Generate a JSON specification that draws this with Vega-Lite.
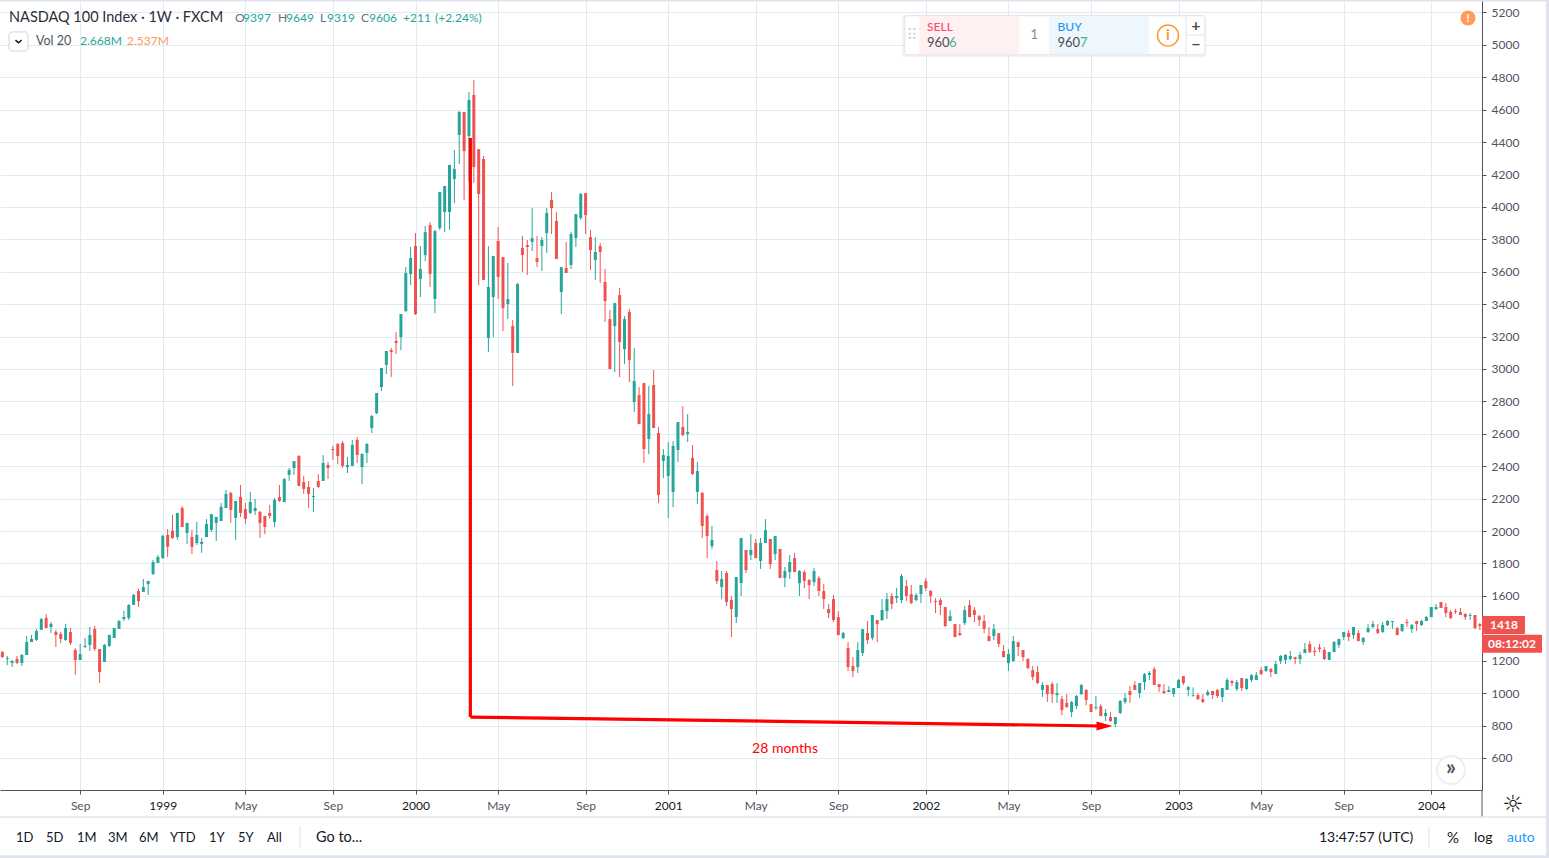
{"$schema":"https://vega.github.io/schema/vega-lite/v6.json","width":1482,"height":790,"padding":{"left":0,"top":0,"right":67,"bottom":68},"autosize":{"type":"none","contains":"content"},"background":"#ffffff","config":{"font":"Lato","view":{"stroke":null},"text":{"baseline":"middle","align":"left","fontSize":13,"color":"#131722"}},"data":{"values":[{"k":1}]},"datasets":{"candles":[
{"d":"1998-05-18","o":1254,"h":1260,"l":1217,"c":1223},{"d":"1998-05-25","o":1211,"h":1229,"l":1173,"c":1217},{"d":"1998-06-01","o":1186,"h":1204,"l":1161,"c":1198},{"d":"1998-06-08","o":1211,"h":1229,"l":1180,"c":1186},{"d":"1998-06-15","o":1186,"h":1241,"l":1167,"c":1235},{"d":"1998-06-22","o":1235,"h":1352,"l":1235,"c":1315},{"d":"1998-06-29","o":1315,"h":1359,"l":1315,"c":1334},{"d":"1998-07-06","o":1328,"h":1396,"l":1322,"c":1383},{"d":"1998-07-13","o":1390,"h":1464,"l":1390,"c":1457},{"d":"1998-07-20","o":1464,"h":1488,"l":1402,"c":1402},{"d":"1998-07-27","o":1408,"h":1439,"l":1371,"c":1427},{"d":"1998-08-03","o":1377,"h":1390,"l":1285,"c":1359},{"d":"1998-08-10","o":1365,"h":1377,"l":1309,"c":1334},{"d":"1998-08-17","o":1328,"h":1427,"l":1322,"c":1402},{"d":"1998-08-24","o":1377,"h":1402,"l":1297,"c":1309},{"d":"1998-08-31","o":1266,"h":1278,"l":1112,"c":1204},{"d":"1998-09-07","o":1204,"h":1303,"l":1204,"c":1241},{"d":"1998-09-14","o":1285,"h":1340,"l":1278,"c":1291},{"d":"1998-09-21","o":1297,"h":1408,"l":1260,"c":1359},{"d":"1998-09-28","o":1396,"h":1414,"l":1260,"c":1272},{"d":"1998-10-05","o":1272,"h":1272,"l":1062,"c":1130},{"d":"1998-10-12","o":1192,"h":1303,"l":1192,"c":1297},{"d":"1998-10-19","o":1291,"h":1359,"l":1285,"c":1359},{"d":"1998-10-26","o":1340,"h":1402,"l":1340,"c":1402},{"d":"1998-11-02","o":1396,"h":1451,"l":1396,"c":1445},{"d":"1998-11-09","o":1457,"h":1507,"l":1445,"c":1470},{"d":"1998-11-16","o":1464,"h":1550,"l":1451,"c":1544},{"d":"1998-11-23","o":1544,"h":1612,"l":1544,"c":1606},{"d":"1998-11-30","o":1630,"h":1643,"l":1531,"c":1568},{"d":"1998-12-07","o":1624,"h":1704,"l":1624,"c":1655},{"d":"1998-12-14","o":1673,"h":1692,"l":1606,"c":1692},{"d":"1998-12-21","o":1735,"h":1821,"l":1729,"c":1809},{"d":"1998-12-28","o":1803,"h":1852,"l":1803,"c":1840},
{"d":"1999-01-04","o":1834,"h":1976,"l":1828,"c":1970},{"d":"1999-01-11","o":1976,"h":2013,"l":1840,"c":1902},{"d":"1999-01-18","o":2002,"h":2099,"l":1951,"c":1957},{"d":"1999-01-25","o":1963,"h":2112,"l":1945,"c":2112},{"d":"1999-02-01","o":2142,"h":2155,"l":2025,"c":2025},{"d":"1999-02-08","o":1988,"h":2050,"l":1920,"c":2050},{"d":"1999-02-15","o":1963,"h":2007,"l":1859,"c":1902},{"d":"1999-02-22","o":1926,"h":2056,"l":1914,"c":1976},{"d":"1999-03-01","o":1920,"h":1957,"l":1865,"c":1933},{"d":"1999-03-08","o":1963,"h":2074,"l":1963,"c":2044},{"d":"1999-03-15","o":2007,"h":2105,"l":1994,"c":2105},{"d":"1999-03-22","o":2050,"h":2087,"l":1939,"c":2087},{"d":"1999-03-29","o":2062,"h":2173,"l":2062,"c":2149},{"d":"1999-04-05","o":2142,"h":2253,"l":2142,"c":2229},{"d":"1999-04-12","o":2235,"h":2241,"l":2050,"c":2130},{"d":"1999-04-19","o":2081,"h":2186,"l":1945,"c":2186},{"d":"1999-04-26","o":2210,"h":2284,"l":2087,"c":2112},{"d":"1999-05-03","o":2136,"h":2173,"l":2044,"c":2075},{"d":"1999-05-10","o":2112,"h":2241,"l":2105,"c":2179},{"d":"1999-05-17","o":2124,"h":2198,"l":2099,"c":2142},{"d":"1999-05-24","o":2118,"h":2124,"l":1957,"c":2050},{"d":"1999-05-31","o":2093,"h":2093,"l":1982,"c":2025},{"d":"1999-06-07","o":2112,"h":2161,"l":2075,"c":2093},{"d":"1999-06-14","o":2056,"h":2204,"l":2025,"c":2192},{"d":"1999-06-21","o":2210,"h":2284,"l":2179,"c":2186},{"d":"1999-06-28","o":2179,"h":2327,"l":2179,"c":2321},{"d":"1999-07-05","o":2346,"h":2389,"l":2309,"c":2377},{"d":"1999-07-12","o":2389,"h":2432,"l":2346,"c":2432},{"d":"1999-07-19","o":2463,"h":2469,"l":2278,"c":2278},{"d":"1999-07-26","o":2303,"h":2340,"l":2229,"c":2260},{"d":"1999-08-02","o":2272,"h":2309,"l":2142,"c":2229},{"d":"1999-08-09","o":2210,"h":2266,"l":2118,"c":2216},{"d":"1999-08-16","o":2309,"h":2352,"l":2266,"c":2272},{"d":"1999-08-23","o":2309,"h":2469,"l":2309,"c":2420},{"d":"1999-08-30","o":2408,"h":2426,"l":2321,"c":2389},{"d":"1999-09-06","o":2506,"h":2525,"l":2439,"c":2500},{"d":"1999-09-13","o":2537,"h":2543,"l":2414,"c":2463},{"d":"1999-09-20","o":2543,"h":2556,"l":2389,"c":2402},{"d":"1999-09-27","o":2395,"h":2457,"l":2358,"c":2408},{"d":"1999-10-04","o":2402,"h":2562,"l":2402,"c":2531},{"d":"1999-10-11","o":2562,"h":2580,"l":2420,"c":2469},{"d":"1999-10-18","o":2395,"h":2480,"l":2290,"c":2476},{"d":"1999-10-25","o":2482,"h":2543,"l":2420,"c":2537},{"d":"1999-11-01","o":2636,"h":2716,"l":2605,"c":2710},{"d":"1999-11-08","o":2728,"h":2852,"l":2722,"c":2852},{"d":"1999-11-15","o":2889,"h":3006,"l":2864,"c":3006},{"d":"1999-11-22","o":3025,"h":3111,"l":2969,"c":3111},{"d":"1999-11-29","o":3117,"h":3130,"l":2951,"c":3105},{"d":"1999-12-06","o":3173,"h":3228,"l":3092,"c":3160},{"d":"1999-12-13","o":3197,"h":3339,"l":3117,"c":3339},{"d":"1999-12-20","o":3358,"h":3629,"l":3352,"c":3592},{"d":"1999-12-27","o":3586,"h":3753,"l":3518,"c":3685},
{"d":"2000-01-03","o":3759,"h":3839,"l":3333,"c":3339},{"d":"2000-01-10","o":3555,"h":3759,"l":3444,"c":3617},{"d":"2000-01-17","o":3703,"h":3882,"l":3666,"c":3845},{"d":"2000-01-24","o":3888,"h":3907,"l":3506,"c":3586},{"d":"2000-01-31","o":3432,"h":3858,"l":3345,"c":3851},{"d":"2000-02-07","o":3870,"h":4092,"l":3858,"c":4092},{"d":"2000-02-14","o":3969,"h":4129,"l":3845,"c":4129},{"d":"2000-02-21","o":3969,"h":4259,"l":3858,"c":4259},{"d":"2000-02-28","o":4172,"h":4351,"l":4024,"c":4234},{"d":"2000-03-06","o":4444,"h":4592,"l":4265,"c":4586},{"d":"2000-03-13","o":4586,"h":4586,"l":4043,"c":4345},{"d":"2000-03-20","o":4438,"h":4709,"l":4154,"c":4660},{"d":"2000-03-27","o":4691,"h":4783,"l":4148,"c":4246},{"d":"2000-04-03","o":4357,"h":4357,"l":3518,"c":4080},{"d":"2000-04-10","o":4296,"h":4314,"l":3549,"c":3549},{"d":"2000-04-17","o":3191,"h":3759,"l":3105,"c":3506},{"d":"2000-04-24","o":3444,"h":3697,"l":3197,"c":3697},{"d":"2000-05-01","o":3790,"h":3876,"l":3432,"c":3568},{"d":"2000-05-08","o":3691,"h":3691,"l":3234,"c":3376},{"d":"2000-05-15","o":3401,"h":3654,"l":3308,"c":3432},{"d":"2000-05-22","o":3265,"h":3302,"l":2895,"c":3099},{"d":"2000-05-29","o":3099,"h":3531,"l":3099,"c":3524},{"d":"2000-06-05","o":3747,"h":3821,"l":3598,"c":3703},{"d":"2000-06-12","o":3765,"h":3796,"l":3580,"c":3753},{"d":"2000-06-19","o":3784,"h":3993,"l":3728,"c":3808},{"d":"2000-06-26","o":3685,"h":3821,"l":3629,"c":3660},{"d":"2000-07-03","o":3759,"h":3814,"l":3605,"c":3796},{"d":"2000-07-10","o":3839,"h":3993,"l":3716,"c":3963},{"d":"2000-07-17","o":4043,"h":4092,"l":3833,"c":3993},{"d":"2000-07-24","o":3913,"h":3969,"l":3679,"c":3679},{"d":"2000-07-31","o":3475,"h":3629,"l":3339,"c":3629},{"d":"2000-08-07","o":3623,"h":3784,"l":3592,"c":3592},{"d":"2000-08-14","o":3642,"h":3845,"l":3617,"c":3833},{"d":"2000-08-21","o":3808,"h":3956,"l":3753,"c":3956},{"d":"2000-08-28","o":3932,"h":4086,"l":3919,"c":4080},{"d":"2000-09-04","o":4086,"h":4086,"l":3833,"c":3950},{"d":"2000-09-11","o":3814,"h":3858,"l":3611,"c":3734},{"d":"2000-09-18","o":3672,"h":3814,"l":3549,"c":3722},{"d":"2000-09-25","o":3759,"h":3777,"l":3531,"c":3722},{"d":"2000-10-02","o":3537,"h":3617,"l":3290,"c":3419},{"d":"2000-10-09","o":3308,"h":3364,"l":3000,"c":3000},{"d":"2000-10-16","o":3265,"h":3407,"l":2981,"c":3407},{"d":"2000-10-23","o":3456,"h":3500,"l":2950,"c":3166},{"d":"2000-10-30","o":3123,"h":3327,"l":3031,"c":3308},{"d":"2000-11-06","o":3352,"h":3370,"l":2920,"c":3055},{"d":"2000-11-13","o":2796,"h":3129,"l":2734,"c":2926},{"d":"2000-11-20","o":2839,"h":2889,"l":2660,"c":2660},{"d":"2000-11-27","o":2913,"h":2913,"l":2420,"c":2506},{"d":"2000-12-04","o":2568,"h":2895,"l":2475,"c":2722},{"d":"2000-12-11","o":2901,"h":2994,"l":2636,"c":2636},{"d":"2000-12-18","o":2605,"h":2642,"l":2173,"c":2222},{"d":"2000-12-25","o":2432,"h":2506,"l":2327,"c":2469},
{"d":"2001-01-01","o":2339,"h":2549,"l":2080,"c":2463},{"d":"2001-01-08","o":2241,"h":2555,"l":2148,"c":2525},{"d":"2001-01-15","o":2500,"h":2673,"l":2426,"c":2673},{"d":"2001-01-22","o":2642,"h":2771,"l":2586,"c":2592},{"d":"2001-01-29","o":2599,"h":2722,"l":2549,"c":2611},{"d":"2001-02-05","o":2451,"h":2531,"l":2346,"c":2352},{"d":"2001-02-12","o":2241,"h":2426,"l":2167,"c":2370},{"d":"2001-02-19","o":2235,"h":2241,"l":1957,"c":2031},{"d":"2001-02-26","o":2093,"h":2105,"l":1833,"c":1969},{"d":"2001-03-05","o":1907,"h":2031,"l":1889,"c":1945},{"d":"2001-03-12","o":1759,"h":1815,"l":1673,"c":1691},{"d":"2001-03-19","o":1654,"h":1753,"l":1580,"c":1704},{"d":"2001-03-26","o":1741,"h":1753,"l":1537,"c":1562},{"d":"2001-04-02","o":1574,"h":1599,"l":1346,"c":1519},{"d":"2001-04-09","o":1469,"h":1716,"l":1432,"c":1716},{"d":"2001-04-16","o":1679,"h":1957,"l":1599,"c":1957},{"d":"2001-04-23","o":1883,"h":1883,"l":1741,"c":1759},{"d":"2001-04-30","o":1852,"h":1982,"l":1821,"c":1883},{"d":"2001-05-07","o":1926,"h":1951,"l":1833,"c":1833},{"d":"2001-05-14","o":1815,"h":1957,"l":1766,"c":1926},{"d":"2001-05-21","o":1926,"h":2074,"l":1926,"c":2006},{"d":"2001-05-28","o":1951,"h":1951,"l":1766,"c":1796},{"d":"2001-06-04","o":1858,"h":1969,"l":1821,"c":1969},{"d":"2001-06-11","o":1889,"h":1889,"l":1710,"c":1710},{"d":"2001-06-18","o":1710,"h":1778,"l":1654,"c":1753},{"d":"2001-06-25","o":1747,"h":1852,"l":1704,"c":1809},{"d":"2001-07-02","o":1833,"h":1864,"l":1747,"c":1747},{"d":"2001-07-09","o":1679,"h":1759,"l":1599,"c":1753},{"d":"2001-07-16","o":1747,"h":1759,"l":1648,"c":1692},{"d":"2001-07-23","o":1698,"h":1704,"l":1580,"c":1667},{"d":"2001-07-30","o":1685,"h":1772,"l":1661,"c":1753},{"d":"2001-08-06","o":1710,"h":1722,"l":1599,"c":1630},{"d":"2001-08-13","o":1630,"h":1673,"l":1519,"c":1580},{"d":"2001-08-20","o":1519,"h":1550,"l":1463,"c":1494},{"d":"2001-08-27","o":1580,"h":1605,"l":1438,"c":1451},{"d":"2001-09-03","o":1469,"h":1506,"l":1358,"c":1358},{"d":"2001-09-10","o":1340,"h":1377,"l":1334,"c":1371},{"d":"2001-09-17","o":1278,"h":1315,"l":1136,"c":1161},{"d":"2001-09-24","o":1167,"h":1222,"l":1099,"c":1136},{"d":"2001-10-01","o":1161,"h":1315,"l":1124,"c":1266},{"d":"2001-10-08","o":1247,"h":1395,"l":1229,"c":1395},{"d":"2001-10-15","o":1371,"h":1445,"l":1303,"c":1327},{"d":"2001-10-22","o":1340,"h":1482,"l":1327,"c":1482},{"d":"2001-10-29","o":1451,"h":1451,"l":1315,"c":1426},{"d":"2001-11-05","o":1451,"h":1580,"l":1445,"c":1513},{"d":"2001-11-12","o":1506,"h":1617,"l":1457,"c":1580},{"d":"2001-11-19","o":1599,"h":1617,"l":1519,"c":1550},{"d":"2001-11-26","o":1587,"h":1648,"l":1556,"c":1599},{"d":"2001-12-03","o":1574,"h":1735,"l":1556,"c":1722},{"d":"2001-12-10","o":1660,"h":1698,"l":1568,"c":1599},{"d":"2001-12-17","o":1611,"h":1667,"l":1549,"c":1556},{"d":"2001-12-24","o":1574,"h":1617,"l":1568,"c":1605},{"d":"2001-12-31","o":1611,"h":1667,"l":1556,"c":1667},
{"d":"2002-01-07","o":1691,"h":1710,"l":1630,"c":1648},{"d":"2002-01-14","o":1630,"h":1636,"l":1556,"c":1599},{"d":"2002-01-21","o":1568,"h":1586,"l":1494,"c":1562},{"d":"2002-01-28","o":1574,"h":1586,"l":1482,"c":1543},{"d":"2002-02-04","o":1531,"h":1531,"l":1408,"c":1414},{"d":"2002-02-11","o":1445,"h":1512,"l":1445,"c":1475},{"d":"2002-02-18","o":1426,"h":1426,"l":1346,"c":1346},{"d":"2002-02-25","o":1370,"h":1426,"l":1352,"c":1358},{"d":"2002-03-04","o":1432,"h":1537,"l":1420,"c":1512},{"d":"2002-03-11","o":1543,"h":1574,"l":1469,"c":1469},{"d":"2002-03-18","o":1512,"h":1531,"l":1438,"c":1482},{"d":"2002-03-25","o":1475,"h":1482,"l":1414,"c":1451},{"d":"2002-04-01","o":1445,"h":1482,"l":1370,"c":1395},{"d":"2002-04-08","o":1352,"h":1408,"l":1321,"c":1321},{"d":"2002-04-15","o":1352,"h":1426,"l":1327,"c":1395},{"d":"2002-04-22","o":1370,"h":1370,"l":1284,"c":1303},{"d":"2002-04-29","o":1259,"h":1296,"l":1222,"c":1222},{"d":"2002-05-06","o":1185,"h":1272,"l":1136,"c":1241},{"d":"2002-05-13","o":1198,"h":1352,"l":1192,"c":1321},{"d":"2002-05-20","o":1315,"h":1315,"l":1229,"c":1284},{"d":"2002-05-27","o":1266,"h":1266,"l":1198,"c":1222},{"d":"2002-06-03","o":1210,"h":1216,"l":1148,"c":1155},{"d":"2002-06-10","o":1142,"h":1167,"l":1080,"c":1099},{"d":"2002-06-17","o":1130,"h":1167,"l":1056,"c":1062},{"d":"2002-06-24","o":1019,"h":1068,"l":976,"c":1050},{"d":"2002-07-01","o":1050,"h":1050,"l":945,"c":994},{"d":"2002-07-08","o":1056,"h":1068,"l":939,"c":994},{"d":"2002-07-15","o":988,"h":1062,"l":939,"c":1000},{"d":"2002-07-22","o":963,"h":982,"l":864,"c":895},{"d":"2002-07-29","o":939,"h":994,"l":908,"c":914},{"d":"2002-08-05","o":883,"h":951,"l":852,"c":945},{"d":"2002-08-12","o":920,"h":988,"l":902,"c":982},{"d":"2002-08-19","o":994,"h":1056,"l":988,"c":1050},{"d":"2002-08-26","o":1019,"h":1025,"l":926,"c":957},{"d":"2002-09-02","o":932,"h":932,"l":883,"c":883},{"d":"2002-09-09","o":908,"h":982,"l":895,"c":914},{"d":"2002-09-16","o":920,"h":932,"l":858,"c":858},{"d":"2002-09-23","o":858,"h":902,"l":827,"c":877},{"d":"2002-09-30","o":852,"h":883,"l":821,"c":827},{"d":"2002-10-07","o":809,"h":852,"l":790,"c":852},{"d":"2002-10-14","o":877,"h":957,"l":871,"c":951},{"d":"2002-10-21","o":945,"h":1000,"l":932,"c":969},{"d":"2002-10-28","o":1013,"h":1043,"l":939,"c":988},{"d":"2002-11-04","o":1050,"h":1074,"l":1019,"c":1019},{"d":"2002-11-11","o":1000,"h":1062,"l":969,"c":1062},{"d":"2002-11-18","o":1068,"h":1124,"l":1019,"c":1117},{"d":"2002-11-25","o":1112,"h":1136,"l":1080,"c":1124},{"d":"2002-12-02","o":1148,"h":1161,"l":1050,"c":1050},{"d":"2002-12-09","o":1056,"h":1056,"l":1006,"c":1037},{"d":"2002-12-16","o":1013,"h":1056,"l":994,"c":1000},{"d":"2002-12-23","o":1006,"h":1043,"l":1006,"c":1019},{"d":"2002-12-30","o":994,"h":1031,"l":976,"c":1031},
{"d":"2003-01-06","o":1031,"h":1087,"l":1031,"c":1080},{"d":"2003-01-13","o":1105,"h":1105,"l":1050,"c":1062},{"d":"2003-01-20","o":1019,"h":1044,"l":980,"c":1037},{"d":"2003-01-27","o":982,"h":1035,"l":978,"c":986},{"d":"2003-02-03","o":988,"h":1000,"l":957,"c":963},{"d":"2003-02-10","o":963,"h":994,"l":939,"c":945},{"d":"2003-02-17","o":988,"h":1019,"l":982,"c":1007},{"d":"2003-02-24","o":1013,"h":1013,"l":963,"c":988},{"d":"2003-03-03","o":1019,"h":1025,"l":970,"c":982},{"d":"2003-03-10","o":976,"h":1031,"l":945,"c":1031},{"d":"2003-03-17","o":1019,"h":1093,"l":1019,"c":1081},{"d":"2003-03-24","o":1074,"h":1081,"l":1044,"c":1062},{"d":"2003-03-31","o":1025,"h":1081,"l":1013,"c":1068},{"d":"2003-04-07","o":1093,"h":1093,"l":1013,"c":1031},{"d":"2003-04-14","o":1025,"h":1093,"l":1019,"c":1087},{"d":"2003-04-21","o":1081,"h":1118,"l":1068,"c":1111},{"d":"2003-04-28","o":1081,"h":1130,"l":1081,"c":1111},{"d":"2003-05-05","o":1142,"h":1161,"l":1111,"c":1118},{"d":"2003-05-12","o":1136,"h":1167,"l":1130,"c":1167},{"d":"2003-05-19","o":1148,"h":1155,"l":1099,"c":1130},{"d":"2003-05-26","o":1118,"h":1198,"l":1118,"c":1179},{"d":"2003-06-02","o":1198,"h":1235,"l":1179,"c":1229},{"d":"2003-06-09","o":1204,"h":1241,"l":1179,"c":1235},{"d":"2003-06-16","o":1210,"h":1260,"l":1204,"c":1229},{"d":"2003-06-23","o":1223,"h":1223,"l":1179,"c":1210},{"d":"2003-06-30","o":1210,"h":1253,"l":1179,"c":1235},{"d":"2003-07-07","o":1247,"h":1309,"l":1247,"c":1272},{"d":"2003-07-14","o":1303,"h":1321,"l":1247,"c":1253},{"d":"2003-07-21","o":1260,"h":1284,"l":1229,"c":1253},{"d":"2003-07-28","o":1282,"h":1303,"l":1253,"c":1272},{"d":"2003-08-04","o":1266,"h":1284,"l":1204,"c":1210},{"d":"2003-08-11","o":1204,"h":1253,"l":1204,"c":1253},{"d":"2003-08-18","o":1253,"h":1321,"l":1253,"c":1315},{"d":"2003-08-25","o":1297,"h":1334,"l":1278,"c":1334},{"d":"2003-09-01","o":1346,"h":1377,"l":1327,"c":1377},{"d":"2003-09-08","o":1371,"h":1389,"l":1321,"c":1346},{"d":"2003-09-15","o":1358,"h":1408,"l":1334,"c":1408},{"d":"2003-09-22","o":1371,"h":1389,"l":1321,"c":1321},{"d":"2003-09-29","o":1315,"h":1346,"l":1297,"c":1340},{"d":"2003-10-06","o":1377,"h":1426,"l":1371,"c":1401},{"d":"2003-10-13","o":1408,"h":1445,"l":1401,"c":1426},{"d":"2003-10-20","o":1395,"h":1426,"l":1364,"c":1371},{"d":"2003-10-27","o":1377,"h":1439,"l":1371,"c":1420},{"d":"2003-11-03","o":1420,"h":1451,"l":1414,"c":1445},{"d":"2003-11-10","o":1439,"h":1445,"l":1395,"c":1445},{"d":"2003-11-17","o":1401,"h":1408,"l":1358,"c":1358},{"d":"2003-11-24","o":1383,"h":1426,"l":1377,"c":1426},{"d":"2003-12-01","o":1439,"h":1457,"l":1408,"c":1432},{"d":"2003-12-08","o":1395,"h":1426,"l":1371,"c":1420},{"d":"2003-12-15","o":1445,"h":1445,"l":1383,"c":1426},{"d":"2003-12-22","o":1420,"h":1451,"l":1414,"c":1445},{"d":"2003-12-29","o":1445,"h":1476,"l":1445,"c":1469},
{"d":"2004-01-05","o":1469,"h":1531,"l":1469,"c":1531},{"d":"2004-01-12","o":1519,"h":1550,"l":1513,"c":1531},{"d":"2004-01-19","o":1562,"h":1562,"l":1525,"c":1525},{"d":"2004-01-26","o":1531,"h":1556,"l":1469,"c":1494},{"d":"2004-02-02","o":1500,"h":1513,"l":1457,"c":1463},{"d":"2004-02-09","o":1506,"h":1519,"l":1488,"c":1500},{"d":"2004-02-16","o":1500,"h":1525,"l":1482,"c":1482},{"d":"2004-02-23","o":1488,"h":1494,"l":1451,"c":1469},{"d":"2004-03-01","o":1476,"h":1494,"l":1451,"c":1482},{"d":"2004-03-08","o":1482,"h":1482,"l":1395,"c":1401},{"d":"2004-03-15","o":1426,"h":1432,"l":1389,"c":1414}],
"arrow":[{"d0":"2000-03-22","p0":4425,"d1":"2000-03-22","p1":852},{"d0":"2000-03-22","p0":852,"d1":"2002-09-19","p1":797}]},
"layer":[
{"data":{"name":"candles"},"mark":{"type":"rule","strokeWidth":1},"encoding":{"x":{"field":"d","type":"temporal","title":null,"scale":{"type":"utc","domain":[895150937000,1079575463000],"padding":0,"nice":false},"axis":{"tickCount":60,"values":[{"year":1998,"month":9,"date":7,"utc":true},{"year":1999,"month":1,"date":4,"utc":true},{"year":1999,"month":5,"date":3,"utc":true},{"year":1999,"month":9,"date":6,"utc":true},{"year":2000,"month":1,"date":3,"utc":true},{"year":2000,"month":5,"date":1,"utc":true},{"year":2000,"month":9,"date":4,"utc":true},{"year":2001,"month":1,"date":1,"utc":true},{"year":2001,"month":5,"date":7,"utc":true},{"year":2001,"month":9,"date":3,"utc":true},{"year":2002,"month":1,"date":7,"utc":true},{"year":2002,"month":5,"date":6,"utc":true},{"year":2002,"month":9,"date":2,"utc":true},{"year":2003,"month":1,"date":6,"utc":true},{"year":2003,"month":5,"date":5,"utc":true},{"year":2003,"month":9,"date":1,"utc":true},{"year":2004,"month":1,"date":5,"utc":true}],"labelExpr":"utcmonth(datum.value)==0?utcFormat(datum.value,'%Y'):utcFormat(datum.value,'%b')","labelColor":{"condition":{"test":"utcmonth(datum.value)==0","value":"#131722"},"value":"#50535e"},"grid":true,"gridColor":"#e1ecf2","gridWidth":1,"domainColor":"#50535e","tickColor":"#50535e","tickSize":4,"labelFontSize":12,"labelPadding":6,"labelFlush":false,"labelOverlap":false}},"y":{"field":"l","type":"quantitative","title":null,"scale":{"domain":[402,5277],"zero":false,"nice":false,"padding":0},"axis":{"tickCount":60,"orient":"right","values":[600,800,1000,1200,1400,1600,1800,2000,2200,2400,2600,2800,3000,3200,3400,3600,3800,4000,4200,4400,4600,4800,5000,5200],"labelExpr":"datum.value==1400?'':datum.label","format":"d","grid":true,"gridColor":"#e1ecf2","gridWidth":1,"domainColor":"#50535e","tickColor":"#50535e","tickSize":4,"labelColor":"#50535e","labelFontSize":12,"labelPadding":5,"labelOverlap":false}},"y2":{"field":"h"},"color":{"condition":{"test":"datum.c>=datum.o","value":"#26a69a"},"value":"#ef5350"}}},
{"data":{"name":"candles"},"mark":{"type":"bar","size":3},"encoding":{"x":{"field":"d","type":"temporal"},"y":{"field":"o","type":"quantitative"},"y2":{"field":"c"},"color":{"condition":{"test":"datum.c>=datum.o","value":"#26a69a"},"value":"#ef5350"}}},
{"data":{"name":"arrow"},"mark":{"type":"rule","color":"#ff0000","strokeWidth":3.2},"encoding":{"x":{"field":"d0","type":"temporal"},"x2":{"field":"d1"},"y":{"field":"p0","type":"quantitative"},"y2":{"field":"p1"}}},
{"mark":{"type":"point","shape":"M-1,-0.55L1,0L-1,0.55Z","filled":true,"color":"#ff0000","opacity":1,"size":256},"encoding":{"x":{"datum":1032600000000,"type":"temporal"},"y":{"datum":797}}},
{"mark":{"type":"text","text":"28 months","align":"center","color":"#ff0000","fontSize":14},"encoding":{"x":{"datum":992838692000,"type":"temporal"},"y":{"datum":655}}},
{"mark":{"type":"rect","fill":"#000000","opacity":0.05,"cornerRadius":4},"encoding":{"x":{"datum":1007400000000,"type":"temporal"},"x2":{"datum":1045250000000,"type":"temporal"},"y":{"datum":5186},"y2":{"datum":4925}}},
{"mark":{"type":"rect","fill":"#ffffff","stroke":"#e0e3eb","cornerRadius":3},"encoding":{"x":{"datum":1007734519000,"type":"temporal"},"x2":{"datum":1045104752000,"type":"temporal"},"y":{"datum":5180},"y2":{"datum":4939}}},
{"mark":{"type":"rect","fill":"#fff0f2"},"encoding":{"x":{"datum":1009551387000,"type":"temporal"},"x2":{"datum":1021995687000,"type":"temporal"},"y":{"datum":5178},"y2":{"datum":4944}}},
{"mark":{"type":"rect","fill":"#eef6fe"},"encoding":{"x":{"datum":1025728977000,"type":"temporal"},"x2":{"datum":1038173277000,"type":"temporal"},"y":{"datum":5178},"y2":{"datum":4944}}},
{"mark":{"type":"rule","color":"#e0e3eb"},"encoding":{"x":{"datum":1042740335000,"type":"temporal"},"y":{"datum":5178},"y2":{"datum":4944}}},
{"mark":{"type":"rule","color":"#e0e3eb"},"encoding":{"x":{"datum":1042740335000,"type":"temporal"},"x2":{"datum":1045104752000,"type":"temporal"},"y":{"datum":5061}}},
{"mark":{"type":"text","text":"⠿","font":"DejaVu Sans","align":"center","color":"#d1d4dc","fontSize":15},"encoding":{"x":{"datum":1008642953000,"type":"temporal"},"y":{"datum":5058}}},
{"mark":{"type":"text","text":"SELL","color":"#ff4a68","fontSize":12,"fontWeight":500},"encoding":{"x":{"datum":1010509598000,"type":"temporal"},"y":{"datum":5110}}},
{"mark":{"type":"text","text":"960","color":"#4a4d57"},"encoding":{"x":{"datum":1010509598000,"type":"temporal"},"y":{"datum":5012}}},
{"mark":{"type":"text","text":"6","color":"#3cb88f"},"encoding":{"x":{"datum":1013247344000,"type":"temporal"},"y":{"datum":5012}}},
{"mark":{"type":"text","text":"1","align":"center","color":"#868993"},"encoding":{"x":{"datum":1023862332000,"type":"temporal"},"y":{"datum":5058}}},
{"mark":{"type":"text","text":"BUY","color":"#2196f3","fontSize":12,"fontWeight":500},"encoding":{"x":{"datum":1026749409000,"type":"temporal"},"y":{"datum":5110}}},
{"mark":{"type":"text","text":"960","color":"#4a4d57"},"encoding":{"x":{"datum":1026749409000,"type":"temporal"},"y":{"datum":5012}}},
{"mark":{"type":"text","text":"7","color":"#3cb88f"},"encoding":{"x":{"datum":1029549377000,"type":"temporal"},"y":{"datum":5012}}},
{"mark":{"type":"point","shape":"circle","filled":false,"stroke":"#ff9a33","strokeWidth":1.5,"opacity":1,"size":441},"encoding":{"x":{"datum":1040500361000,"type":"temporal"},"y":{"datum":5058}}},
{"mark":{"type":"text","text":"i","align":"center","color":"#ff9a33","fontSize":15,"fontWeight":700},"encoding":{"x":{"datum":1040500361000,"type":"temporal"},"y":{"datum":5058}}},
{"mark":{"type":"text","text":"+","align":"center","color":"#4a4d57","fontSize":16,"fontWeight":700},"encoding":{"x":{"datum":1043984765000,"type":"temporal"},"y":{"datum":5117}}},
{"mark":{"type":"text","text":"−","align":"center","color":"#4a4d57","fontSize":16,"fontWeight":700},"encoding":{"x":{"datum":1043984765000,"type":"temporal"},"y":{"datum":4999}}},
{"mark":{"type":"text","text":"NASDAQ 100 Index · 1W · FXCM","color":"#2a2e39","fontSize":14.5},"encoding":{"x":{"datum":896270924000,"type":"temporal"},"y":{"datum":5166}}},
{"mark":{"type":"text","text":"O","color":"#6a6d78","fontSize":12},"encoding":{"x":{"datum":924395042000,"type":"temporal"},"y":{"datum":5166}}},
{"mark":{"type":"text","text":"9397","color":"#26a69a","fontSize":12},"encoding":{"x":{"datum":925390586000,"type":"temporal"},"y":{"datum":5166}}},
{"mark":{"type":"text","text":"H","color":"#6a6d78","fontSize":12},"encoding":{"x":{"datum":929746091000,"type":"temporal"},"y":{"datum":5166}}},
{"mark":{"type":"text","text":"9649","color":"#26a69a","fontSize":12},"encoding":{"x":{"datum":930741635000,"type":"temporal"},"y":{"datum":5166}}},
{"mark":{"type":"text","text":"L","color":"#6a6d78","fontSize":12},"encoding":{"x":{"datum":934972697000,"type":"temporal"},"y":{"datum":5166}}},
{"mark":{"type":"text","text":"9319","color":"#26a69a","fontSize":12},"encoding":{"x":{"datum":935843798000,"type":"temporal"},"y":{"datum":5166}}},
{"mark":{"type":"text","text":"C","color":"#6a6d78","fontSize":12},"encoding":{"x":{"datum":940074860000,"type":"temporal"},"y":{"datum":5166}}},
{"mark":{"type":"text","text":"9606","color":"#26a69a","fontSize":12},"encoding":{"x":{"datum":941070404000,"type":"temporal"},"y":{"datum":5166}}},
{"mark":{"type":"text","text":"+211","color":"#26a69a","fontSize":12},"encoding":{"x":{"datum":945301466000,"type":"temporal"},"y":{"datum":5166}}},
{"mark":{"type":"text","text":"(+2.24%)","color":"#26a69a","fontSize":12},"encoding":{"x":{"datum":949283642000,"type":"temporal"},"y":{"datum":5166}}},
{"mark":{"type":"rect","fill":"#ffffff","stroke":"#d1d4dc","cornerRadius":3},"encoding":{"x":{"datum":896270924000,"type":"temporal"},"x2":{"datum":898635341000,"type":"temporal"},"y":{"datum":5080},"y2":{"datum":4962}}},
{"mark":{"type":"point","shape":"M-1,-0.45L0,0.45L1,-0.45","filled":false,"stroke":"#131722","strokeWidth":1.5,"opacity":1,"size":36},"encoding":{"x":{"datum":897453133000,"type":"temporal"},"y":{"datum":5021}}},
{"mark":{"type":"text","text":"Vol 20","color":"#50535e","fontSize":12.5},"encoding":{"x":{"datum":899630885000,"type":"temporal"},"y":{"datum":5024}}},
{"mark":{"type":"text","text":"2.668M","color":"#26a69a","fontSize":12},"encoding":{"x":{"datum":905106377000,"type":"temporal"},"y":{"datum":5024}}},
{"mark":{"type":"text","text":"2.537M","color":"#ff9a5c","fontSize":12},"encoding":{"x":{"datum":910955198000,"type":"temporal"},"y":{"datum":5024}}},
{"mark":{"type":"point","shape":"circle","filled":true,"color":"#ff9a5c","opacity":1,"size":225},"encoding":{"x":{"datum":1077833261000,"type":"temporal"},"y":{"datum":5166}}},
{"mark":{"type":"text","text":"!","align":"center","color":"#ffffff","fontSize":12,"fontWeight":700},"encoding":{"x":{"datum":1077833261000,"type":"temporal"},"y":{"datum":5166}}},
{"mark":{"type":"rect","fill":"#ef5350","cornerRadius":1},"encoding":{"x":{"datum":1079575463000,"type":"temporal"},"x2":{"datum":1084926512000,"type":"temporal"},"y":{"datum":1476},"y2":{"datum":1365}}},
{"mark":{"type":"rect","fill":"#ef5350","cornerRadius":1},"encoding":{"x":{"datum":1079575463000,"type":"temporal"},"x2":{"datum":1087042043000,"type":"temporal"},"y":{"datum":1360},"y2":{"datum":1249}}},
{"mark":{"type":"text","text":"1418","align":"center","color":"#ffffff","fontSize":12,"fontWeight":700},"encoding":{"x":{"datum":1082313209000,"type":"temporal"},"y":{"datum":1420}}},
{"mark":{"type":"text","text":"08:12:02","align":"center","color":"#ffffff","fontSize":12,"fontWeight":700},"encoding":{"x":{"datum":1083308753000,"type":"temporal"},"y":{"datum":1303}}},
{"mark":{"type":"point","shape":"circle","filled":true,"color":"#ffffff","stroke":"#eceef2","opacity":1,"size":784},"encoding":{"x":{"datum":1075717730000,"type":"temporal"},"y":{"datum":525}}},
{"mark":{"type":"text","text":"»","align":"center","color":"#50535e","fontSize":22,"fontWeight":700},"encoding":{"x":{"datum":1075717730000,"type":"temporal"},"y":{"datum":535}}},
{"mark":{"type":"rule","color":"#50535e"},"encoding":{"x":{"datum":1079575463000,"type":"temporal"},"y":{"datum":402},"y2":{"datum":235}}},
{"mark":{"type":"rule","color":"#e0e3eb","strokeWidth":1.5},"encoding":{"x":{"datum":895150937000,"type":"temporal"},"x2":{"datum":1087913144000,"type":"temporal"},"y":{"datum":235}}},
{"mark":{"type":"rule","color":"#e0e3eb","strokeWidth":3},"encoding":{"x":{"datum":895150937000,"type":"temporal"},"x2":{"datum":1087913144000,"type":"temporal"},"y":{"datum":-10}}},
{"mark":{"type":"rule","color":"#e0e3eb","strokeWidth":2},"encoding":{"x":{"datum":895150937000,"type":"temporal"},"x2":{"datum":1087913144000,"type":"temporal"},"y":{"datum":5274}}},
{"mark":{"type":"rule","color":"#e0e3eb","strokeWidth":3},"encoding":{"x":{"datum":1087726479000,"type":"temporal"},"y":{"datum":5277},"y2":{"datum":-10}}},
{"mark":{"type":"text","text":"☼","font":"DejaVu Sans","align":"center","fontSize":24},"encoding":{"x":{"datum":1083433196000,"type":"temporal"},"y":{"datum":309}}},
{"mark":{"type":"text","text":"1D"},"encoding":{"x":{"datum":897142025000,"type":"temporal"},"y":{"datum":106}}},
{"mark":{"type":"text","text":"5D"},"encoding":{"x":{"datum":900875315000,"type":"temporal"},"y":{"datum":106}}},
{"mark":{"type":"text","text":"1M"},"encoding":{"x":{"datum":904733048000,"type":"temporal"},"y":{"datum":106}}},
{"mark":{"type":"text","text":"3M"},"encoding":{"x":{"datum":908590781000,"type":"temporal"},"y":{"datum":106}}},
{"mark":{"type":"text","text":"6M"},"encoding":{"x":{"datum":912448514000,"type":"temporal"},"y":{"datum":106}}},
{"mark":{"type":"text","text":"YTD"},"encoding":{"x":{"datum":916306247000,"type":"temporal"},"y":{"datum":106}}},
{"mark":{"type":"text","text":"1Y"},"encoding":{"x":{"datum":921159524000,"type":"temporal"},"y":{"datum":106}}},
{"mark":{"type":"text","text":"5Y"},"encoding":{"x":{"datum":924768371000,"type":"temporal"},"y":{"datum":106}}},
{"mark":{"type":"text","text":"All"},"encoding":{"x":{"datum":928377218000,"type":"temporal"},"y":{"datum":106}}},
{"mark":{"type":"rule","color":"#e0e3eb"},"encoding":{"x":{"datum":932483837000,"type":"temporal"},"y":{"datum":180},"y2":{"datum":44}}},
{"mark":{"type":"text","text":"Go to...","fontSize":14.5},"encoding":{"x":{"datum":934474925000,"type":"temporal"},"y":{"datum":106}}},
{"mark":{"type":"text","text":"13:47:57 (UTC)","fontSize":14},"encoding":{"x":{"datum":1059291254000,"type":"temporal"},"y":{"datum":106}}},
{"mark":{"type":"rule","color":"#e0e3eb"},"encoding":{"x":{"datum":1072979984000,"type":"temporal"},"y":{"datum":180},"y2":{"datum":44}}},
{"mark":{"type":"text","text":"%","fontSize":15},"encoding":{"x":{"datum":1075219958000,"type":"temporal"},"y":{"datum":106}}},
{"mark":{"type":"text","text":"log","fontSize":14},"encoding":{"x":{"datum":1078579919000,"type":"temporal"},"y":{"datum":106}}},
{"mark":{"type":"text","text":"auto","color":"#2196f3","fontSize":14},"encoding":{"x":{"datum":1082686538000,"type":"temporal"},"y":{"datum":106}}}
]}
